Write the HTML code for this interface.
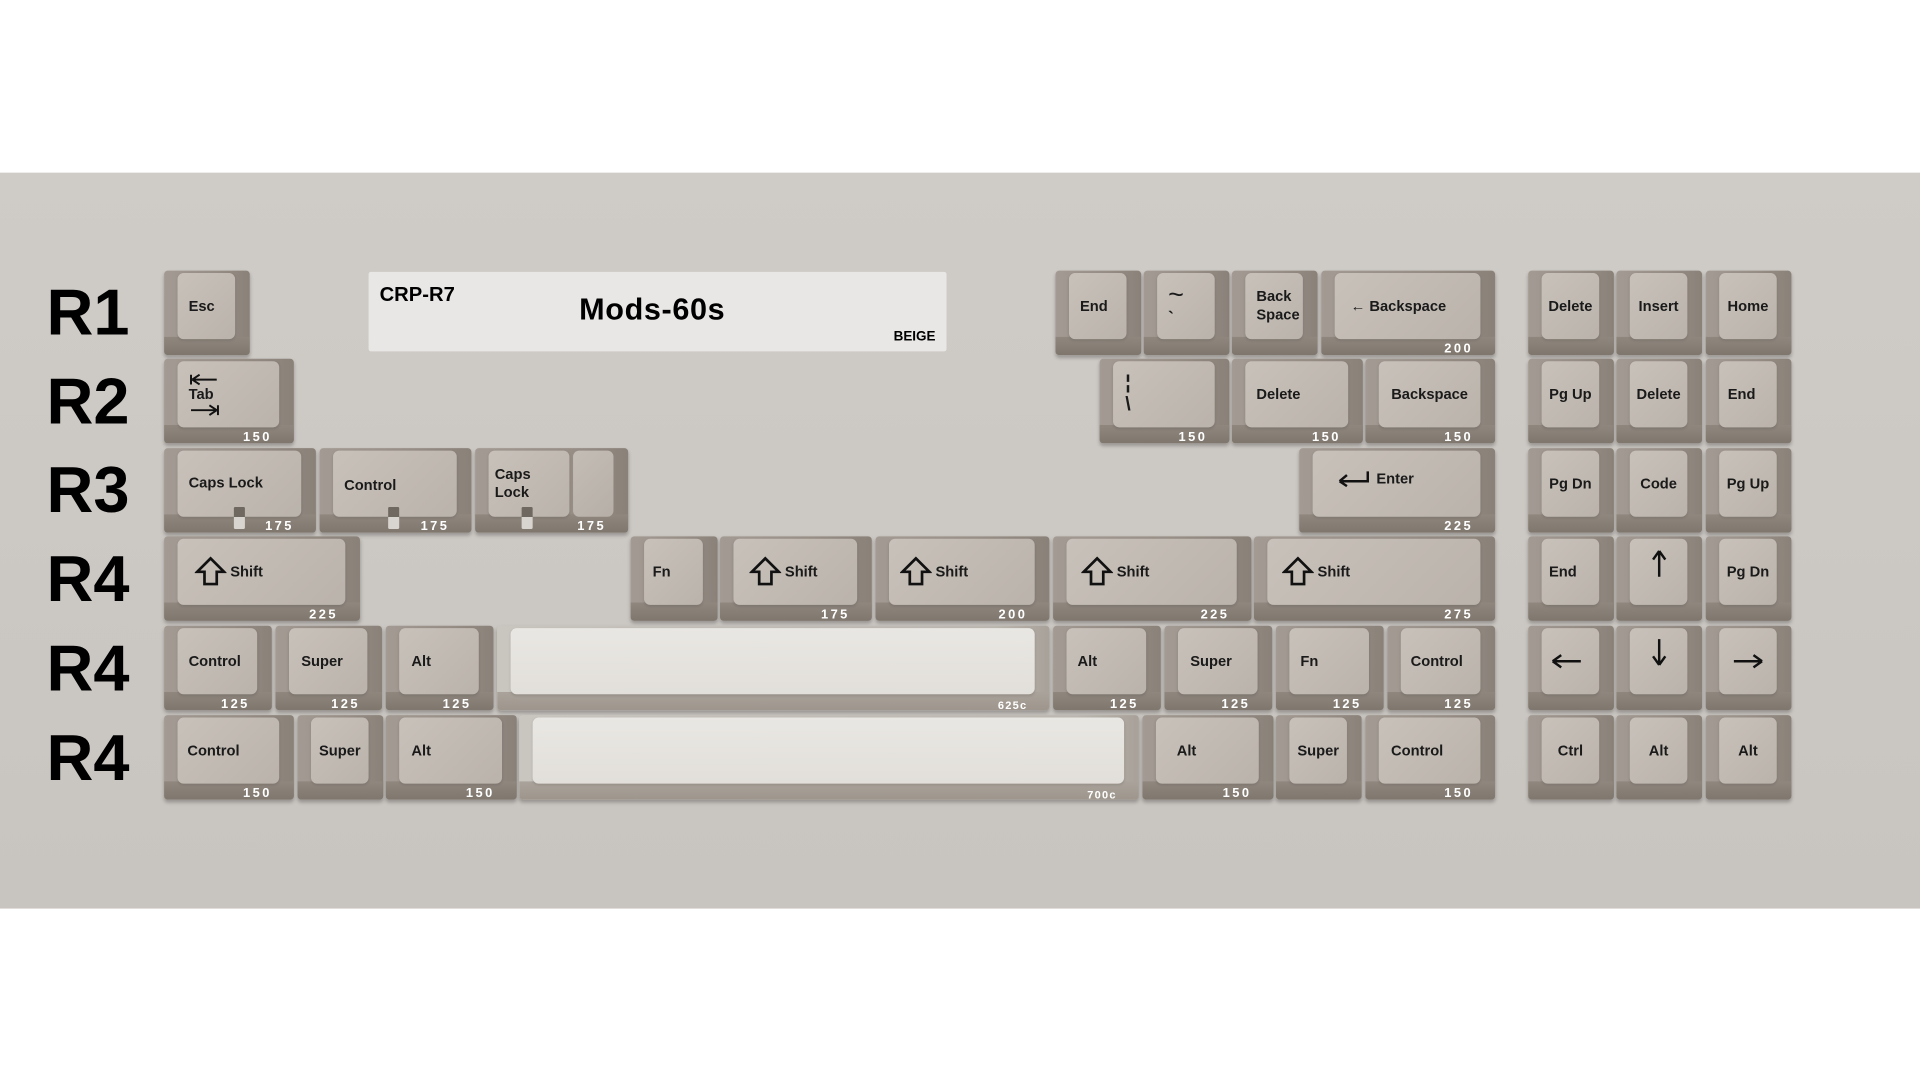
<!DOCTYPE html>
<html><head><meta charset="utf-8"><style>
*{margin:0;padding:0;box-sizing:border-box}
html,body{width:1920px;height:1080px;overflow:hidden;background:#fff}
#w{position:absolute;left:0;top:0;width:1568px;height:882px;transform:scale(1.22449);transform-origin:0 0;font-family:"Liberation Sans",sans-serif}
#band{position:absolute;left:0;top:140.5px;width:1568px;height:601px;background:linear-gradient(#cfcbc7,#c8c4c0)}
.r{position:absolute;left:38px;font-size:53px;font-weight:bold;color:#000;line-height:1}
.k{position:absolute;height:69px;border-radius:3px;background:linear-gradient(90deg,#a39b93 0,#988f87 60%,#8a8279 100%);box-shadow:0 2px 3px rgba(0,0,0,.25)}
.k:before{content:"";position:absolute;left:0;right:0;bottom:0;height:15px;background:linear-gradient(#90887f,#7f776e);border-radius:0 0 3px 3px;clip-path:polygon(0 0,100% 0,100% 100%,0 100%)}
.f{position:absolute;left:11px;right:12px;top:2px;bottom:13px;border-radius:5px;background:linear-gradient(135deg,#c8c1ba,#bab3ab);display:flex;align-items:center;padding-left:9px;font-size:12px;font-weight:bold;color:#1a1a1a;z-index:1;line-height:1.25;box-shadow:0 1px 2px rgba(0,0,0,.12)}
.c .f{justify-content:center;padding-left:0}
.s{position:absolute;right:18px;bottom:-1px;font-size:10.5px;font-weight:bold;color:#fff;letter-spacing:2px;z-index:2}
.sp{background:linear-gradient(90deg,#c9c5bf,#bdb8b1 90%,#a8a199)}
.sp:before{background:linear-gradient(#aaa39b,#9e968d)}
.sp .f{background:linear-gradient(#e9e7e3,#e2dfda)}
.lk{position:absolute;width:9px;height:18px;bottom:3px;background:linear-gradient(#6f6860 45%,#d8d4cf 45%);z-index:3;border-radius:1px}
svg{display:block}
</style></head><body><div id="w">
<div id="band"></div>
<div class="r" style="top:229px">R1</div>
<div class="r" style="top:302px">R2</div>
<div class="r" style="top:374px">R3</div>
<div class="r" style="top:447px">R4</div>
<div class="r" style="top:520px">R4</div>
<div class="r" style="top:593px">R4</div>

<div style="position:absolute;left:301px;top:222px;width:472px;height:65px;background:#e8e7e6;border-radius:2px">
<div style="position:absolute;left:9px;top:10px;font-size:16.5px;font-weight:bold">CRP-R7</div>
<div style="position:absolute;left:172px;top:17px;font-size:25px;font-weight:bold;letter-spacing:.5px">Mods-60s</div>
<div style="position:absolute;right:9px;top:47px;font-size:11px;font-weight:bold">BEIGE</div>
</div>

<!-- R1 -->
<div class="k" style="left:134px;top:221px;width:70px"><div class="f">Esc</div></div>
<div class="k" style="left:862px;top:221px;width:70px"><div class="f">End</div></div>
<div class="k" style="left:934px;top:221px;width:70px"><div class="f" style="flex-direction:column;align-items:flex-start;justify-content:center"><span style="font-size:22px;font-weight:normal;line-height:.9">~</span><span style="font-size:14px">`</span></div></div>
<div class="k" style="left:1006px;top:221px;width:70px"><div class="f">Back<br>Space</div></div>
<div class="k" style="left:1079px;top:221px;width:142px"><div class="f" style="padding-left:13px">&larr; Backspace</div><span class="s">200</span></div>
<div class="k c" style="left:1248px;top:221px;width:70px"><div class="f">Delete</div></div>
<div class="k c" style="left:1320px;top:221px;width:70px"><div class="f">Insert</div></div>
<div class="k c" style="left:1393px;top:221px;width:70px"><div class="f">Home</div></div>

<!-- R2 -->
<div class="k" style="left:134px;top:293px;width:106px"><div class="f" style="flex-direction:column;align-items:flex-start;justify-content:center">
<svg width="26" height="10" viewBox="0 0 26 10"><path d="M2 1v8M3 5h20M3 5l6-4M3 5l6 4" stroke="#111" stroke-width="1.6" fill="none"/></svg>
<span>Tab</span>
<svg width="26" height="10" viewBox="0 0 26 10"><path d="M24 1v8M2 5h20M23 5l-6-4M23 5l-6 4" stroke="#111" stroke-width="1.6" fill="none"/></svg></div><span class="s">150</span></div>
<div class="k" style="left:898px;top:293px;width:106px"><div class="f" style="flex-direction:column;align-items:flex-start;justify-content:center;padding-left:10px;font-size:16px;line-height:1.1"><span>&#166;</span><span>\</span></div><span class="s">150</span></div>
<div class="k" style="left:1006px;top:293px;width:107px"><div class="f">Delete</div><span class="s">150</span></div>
<div class="k c" style="left:1115px;top:293px;width:106px"><div class="f">Backspace</div><span class="s">150</span></div>
<div class="k c" style="left:1248px;top:293px;width:70px"><div class="f">Pg Up</div></div>
<div class="k c" style="left:1320px;top:293px;width:70px"><div class="f">Delete</div></div>
<div class="k" style="left:1393px;top:293px;width:70px"><div class="f" style="padding-left:7px">End</div></div>

<!-- R3 -->
<div class="k" style="left:134px;top:366px;width:124px"><div class="f" style="align-items:flex-start;padding-top:19px">Caps Lock</div><div class="lk" style="left:57px"></div><span class="s">175</span></div>
<div class="k" style="left:261px;top:366px;width:124px"><div class="f" style="align-items:flex-start;padding-top:21px">Control</div><div class="lk" style="left:56px"></div><span class="s">175</span></div>
<div class="k" style="left:388px;top:366px;width:125px"><div class="f" style="right:48px;padding-left:5px;align-items:flex-start;padding-top:12px">Caps<br>Lock</div><div style="position:absolute;left:80px;right:12px;top:2px;bottom:13px;border-radius:5px;background:linear-gradient(135deg,#c4bdb5,#b6afa7)"></div><div class="lk" style="left:38px"></div><span class="s">175</span></div>
<div class="k" style="left:1061px;top:366px;width:160px"><div class="f" style="padding-left:18px;align-items:flex-start;padding-top:16px"><svg width="30" height="14" viewBox="0 0 30 14" style="margin-right:4px"><path d="M27 1v8H4M4 9l6-5M4 9l6 4" stroke="#111" stroke-width="2" fill="none"/></svg>Enter</div><span class="s">225</span></div>
<div class="k c" style="left:1248px;top:366px;width:70px"><div class="f">Pg Dn</div></div>
<div class="k c" style="left:1320px;top:366px;width:70px"><div class="f">Code</div></div>
<div class="k c" style="left:1393px;top:366px;width:70px"><div class="f">Pg Up</div></div>

<!-- R4 -->
<div class="k" style="left:134px;top:438px;width:160px"><div class="f" style="padding-left:14px"><svg width="26" height="26" viewBox="0 0 26 26" style="margin-right:3px"><path d="M13 2L2 13h6v10h10V13h6z" stroke="#111" stroke-width="2.2" fill="none"/></svg>Shift</div><span class="s">225</span></div>
<div class="k" style="left:515px;top:438px;width:71px"><div class="f" style="padding-left:7px">Fn</div></div>
<div class="k" style="left:588px;top:438px;width:124px"><div class="f" style="padding-left:13px"><svg width="26" height="26" viewBox="0 0 26 26" style="margin-right:3px"><path d="M13 2L2 13h6v10h10V13h6z" stroke="#111" stroke-width="2.2" fill="none"/></svg>Shift</div><span class="s">175</span></div>
<div class="k" style="left:715px;top:438px;width:142px"><div class="f" style="padding-left:9px"><svg width="26" height="26" viewBox="0 0 26 26" style="margin-right:3px"><path d="M13 2L2 13h6v10h10V13h6z" stroke="#111" stroke-width="2.2" fill="none"/></svg>Shift</div><span class="s">200</span></div>
<div class="k" style="left:860px;top:438px;width:162px"><div class="f" style="padding-left:12px"><svg width="26" height="26" viewBox="0 0 26 26" style="margin-right:3px"><path d="M13 2L2 13h6v10h10V13h6z" stroke="#111" stroke-width="2.2" fill="none"/></svg>Shift</div><span class="s">225</span></div>
<div class="k" style="left:1024px;top:438px;width:197px"><div class="f" style="padding-left:12px"><svg width="26" height="26" viewBox="0 0 26 26" style="margin-right:3px"><path d="M13 2L2 13h6v10h10V13h6z" stroke="#111" stroke-width="2.2" fill="none"/></svg>Shift</div><span class="s">275</span></div>
<div class="k" style="left:1248px;top:438px;width:70px"><div class="f" style="padding-left:6px">End</div></div>
<div class="k c" style="left:1320px;top:438px;width:70px"><div class="f" style="align-items:flex-start;padding-top:8px"><svg width="12" height="24" viewBox="0 0 12 24"><path d="M6 23V2M6 2L1 9M6 2l5 7" stroke="#111" stroke-width="2" fill="none"/></svg></div></div>
<div class="k c" style="left:1393px;top:438px;width:70px"><div class="f">Pg Dn</div></div>

<!-- R5 -->
<div class="k" style="left:134px;top:511px;width:88px"><div class="f">Control</div><span class="s">125</span></div>
<div class="k" style="left:225px;top:511px;width:87px"><div class="f" style="padding-left:10px">Super</div><span class="s">125</span></div>
<div class="k" style="left:315px;top:511px;width:88px"><div class="f" style="padding-left:10px">Alt</div><span class="s">125</span></div>
<div class="k sp" style="left:406px;top:511px;width:451px"><div class="f"></div><span class="s" style="font-size:9px;letter-spacing:1px">625c</span></div>
<div class="k" style="left:860px;top:511px;width:88px"><div class="f" style="padding-left:9px">Alt</div><span class="s">125</span></div>
<div class="k" style="left:951px;top:511px;width:88px"><div class="f" style="padding-left:10px">Super</div><span class="s">125</span></div>
<div class="k" style="left:1042px;top:511px;width:88px"><div class="f" style="padding-left:9px">Fn</div><span class="s">125</span></div>
<div class="k" style="left:1133px;top:511px;width:88px"><div class="f" style="padding-left:8px">Control</div><span class="s">125</span></div>
<div class="k" style="left:1248px;top:511px;width:70px"><div class="f" style="padding-left:7px"><svg width="26" height="12" viewBox="0 0 26 12"><path d="M25 6H2M2 6l7-5M2 6l7 5" stroke="#111" stroke-width="2" fill="none"/></svg></div></div>
<div class="k c" style="left:1320px;top:511px;width:70px"><div class="f" style="align-items:flex-start;padding-top:8px"><svg width="12" height="24" viewBox="0 0 12 24"><path d="M6 1v21M6 22L1 15M6 22l5-7" stroke="#111" stroke-width="2" fill="none"/></svg></div></div>
<div class="k c" style="left:1393px;top:511px;width:70px"><div class="f"><svg width="26" height="12" viewBox="0 0 26 12"><path d="M1 6h23M24 6l-7-5M24 6l-7 5" stroke="#111" stroke-width="2" fill="none"/></svg></div></div>

<!-- R6 -->
<div class="k" style="left:134px;top:584px;width:106px"><div class="f" style="padding-left:8px">Control</div><span class="s">150</span></div>
<div class="k c" style="left:243px;top:584px;width:70px"><div class="f">Super</div></div>
<div class="k" style="left:315px;top:584px;width:107px"><div class="f" style="padding-left:10px">Alt</div><span class="s">150</span></div>
<div class="k sp" style="left:424px;top:584px;width:506px"><div class="f"></div><span class="s" style="font-size:9px;letter-spacing:1px">700c</span></div>
<div class="k" style="left:933px;top:584px;width:107px"><div class="f" style="padding-left:17px">Alt</div><span class="s">150</span></div>
<div class="k c" style="left:1042px;top:584px;width:70px"><div class="f">Super</div></div>
<div class="k" style="left:1115px;top:584px;width:106px"><div class="f" style="padding-left:10px">Control</div><span class="s">150</span></div>
<div class="k c" style="left:1248px;top:584px;width:70px"><div class="f">Ctrl</div></div>
<div class="k c" style="left:1320px;top:584px;width:70px"><div class="f">Alt</div></div>
<div class="k c" style="left:1393px;top:584px;width:70px"><div class="f">Alt</div></div>
</div></body></html>
